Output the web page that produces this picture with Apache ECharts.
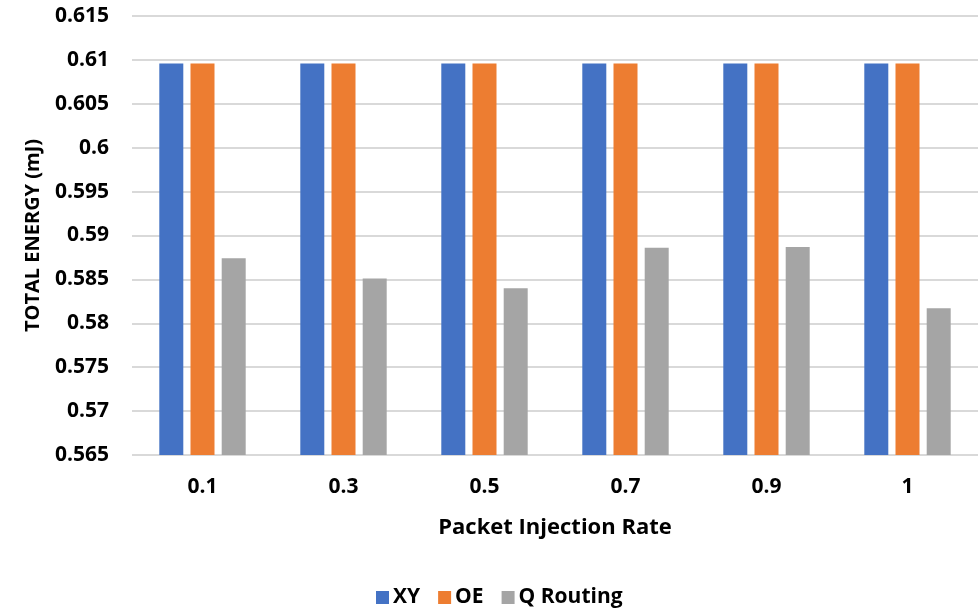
<!DOCTYPE html>
<html><head><meta charset="utf-8">
<script src="https://cdn.jsdelivr.net/npm/echarts@6/dist/echarts.min.js"></script>
<style>html,body{margin:0;padding:0;background:#fff}#c{width:978px;height:609px}</style>
</head><body><div id="c"></div>
<script>
const categories = ['0.1', '0.3', '0.5', '0.7', '0.9', '1'];
const xyValues = [0.6096, 0.6096, 0.6096, 0.6096, 0.6096, 0.6096];
const oeValues = [0.6096, 0.6096, 0.6096, 0.6096, 0.6096, 0.6096];
const qRoutingValues = [0.5874, 0.5851, 0.5840, 0.5886, 0.5887, 0.5817];
const seriesNames = ['XY', 'OE', 'Q Routing'];
const yTicks = { min: 0.565, max: 0.615, interval: 0.005 };

const FONT = 'Open Sans';
const chart = echarts.init(document.getElementById('c'));
const barStyle = (c) => ({ color: c });
chart.setOption({
  animation: false,
  textStyle: { fontFamily: FONT },
  grid: { left: 132, top: 16, width: 848, height: 439, containLabel: false },
  legend: {
    top: 582, left: 371, itemWidth: 13, itemHeight: 13, itemGap: 18,
    icon: 'rect',
    textStyle: { fontFamily: FONT, fontWeight: 'bold', fontSize: 21, color: '#000', padding: [0, 0, 0, -1] },
    data: seriesNames
  },
  xAxis: {
    type: 'category', data: categories,
    name: 'Packet Injection Rate', nameLocation: 'middle', nameGap: 62,
    nameTextStyle: { fontFamily: FONT, fontWeight: 'bold', fontSize: 22, color: '#000' },
    axisLine: { show: false }, axisTick: { show: false },
    axisLabel: { fontFamily: FONT, fontWeight: 'bold', fontSize: 21, color: '#000', margin: 22 }
  },
  yAxis: {
    type: 'value', min: yTicks.min, max: yTicks.max, interval: yTicks.interval,
    name: 'TOTAL ENERGY (mJ)', nameLocation: 'middle', nameGap: 89, nameRotate: 90,
    nameTextStyle: { fontFamily: FONT, fontWeight: 'bold', fontSize: 20, color: '#000' },
    axisLine: { show: false }, axisTick: { show: false },
    axisLabel: { fontFamily: FONT, fontWeight: 'bold', fontSize: 21, color: '#000', margin: 23,
      formatter: (v) => String(parseFloat(v.toFixed(3))) },
    splitLine: { lineStyle: { color: '#d9d9d9', width: 2 } }
  },
  series: [
    { name: seriesNames[0], type: 'bar', data: xyValues, barWidth: 24, barGap: '30%', itemStyle: barStyle('#4472C4') },
    { name: seriesNames[1], type: 'bar', data: oeValues, barWidth: 24, barGap: '30%', itemStyle: barStyle('#ED7D31') },
    { name: seriesNames[2], type: 'bar', data: qRoutingValues, barWidth: 24, barGap: '30%', itemStyle: barStyle('#A5A5A5') }
  ]
});
</script></body></html>
